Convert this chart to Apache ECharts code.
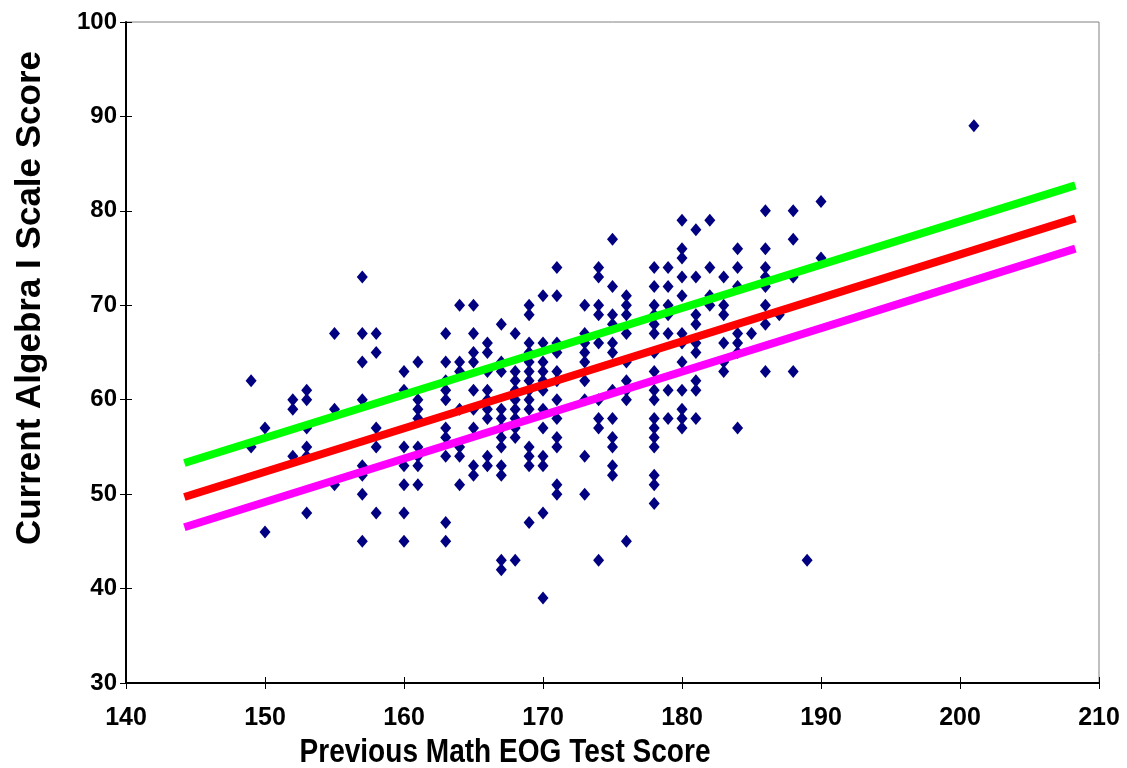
<!DOCTYPE html>
<html>
<head>
<meta charset="utf-8">
<script src="https://cdn.jsdelivr.net/npm/echarts@6/dist/echarts.min.js"></script>
<style>
  html, body { margin: 0; padding: 0; background: #fff; }
  #chart { width: 1127px; height: 768px; }
</style>
</head>
<body>
<div id="chart"></div>
<script>
// previous EOG score (x) and the algebra scores seen in that column
const eogScores = [149, 150, 152, 153, 155, 157, 158, 160, 161, 163, 164, 165, 166, 167, 168, 169, 170, 171, 173, 174, 175, 176, 178, 179, 180, 181, 182, 183, 184, 185, 186, 187, 188, 189, 190, 201];
const algebraByEog = [
  [62, 55],
  [57, 46],
  [60, 59, 54],
  [61, 60, 57, 55, 54, 48],
  [67, 59, 51],
  [73, 67, 64, 60, 53, 52, 50, 45],
  [67, 65, 57, 55, 48],
  [63, 61, 55, 53, 51, 48, 45],
  [64, 60, 59, 58, 55, 54, 53, 51],
  [67, 64, 62, 61, 60, 57, 56, 54, 47, 45],
  [70, 64, 63, 59, 55, 54, 51],
  [70, 67, 65, 64, 61, 59, 57, 53, 52],
  [66, 65, 63, 61, 60, 59, 58, 54, 53],
  [68, 64, 63, 59, 58, 57, 56, 55, 53, 52, 43, 42],
  [67, 63, 62, 61, 60, 59, 58, 57, 56, 43],
  [70, 69, 66, 65, 64, 63, 62, 61, 60, 59, 55, 54, 53, 47],
  [71, 66, 64, 63, 62, 61, 59, 57, 54, 53, 48, 39],
  [74, 71, 66, 65, 63, 62, 60, 58, 56, 55, 51, 50],
  [70, 67, 66, 65, 64, 62, 60, 54, 50],
  [74, 73, 70, 69, 66, 60, 58, 57, 43],
  [77, 72, 69, 68, 66, 65, 61, 58, 56, 55, 53, 52],
  [71, 70, 69, 67, 64, 62, 61, 60, 45],
  [74, 72, 70, 69, 68, 67, 65, 63, 61, 60, 58, 57, 56, 55, 52, 51, 49],
  [74, 72, 70, 69, 67, 61, 58],
  [79, 76, 75, 73, 71, 67, 66, 64, 61, 59, 58, 57],
  [78, 73, 69, 68, 66, 65, 62, 61, 58],
  [79, 74, 71, 70],
  [73, 70, 69, 66, 64, 63],
  [76, 74, 72, 67, 66, 65, 57],
  [67],
  [80, 76, 74, 73, 72, 70, 68, 63],
  [69],
  [80, 77, 73, 63],
  [43],
  [81, 75],
  [89]
];

// regression line and the two band lines
const lineX = [144.2, 208.3];
const upperY = [53.3, 82.7];
const fitY = [49.7, 79.2];
const lowerY = [46.5, 76.0];

const xTicks = { min: 140, max: 210, interval: 10 };
const yTicks = { min: 30, max: 100, interval: 10 };

const points = [];
eogScores.forEach((x, i) => {
  algebraByEog[i].forEach(y => points.push([x, y]));
});
const toLine = ys => lineX.map((x, i) => [x, ys[i]]);

const chart = echarts.init(document.getElementById("chart"));
const labelFont = '"Liberation Sans", Arial, sans-serif';

const baseX = {
  type: "value",
  ...xTicks,
  splitLine: { show: false },
};
const baseY = {
  type: "value",
  ...yTicks,
  splitLine: { show: false },
};

chart.setOption({
  backgroundColor: "#fff",
  animation: false,
  grid: {
    left: 126, right: 28, top: 22, bottom: 85,
    show: true,
    borderColor: "#808080",
    borderWidth: 1,
  },
  xAxis: [
    {
      ...baseX,
      axisLine: { lineStyle: { color: "#000", width: 2 } },
      axisTick: { length: 6, lineStyle: { color: "#000", width: 1 } },
      axisLabel: {
        color: "#000", fontWeight: "bold", fontSize: 25,
        fontFamily: labelFont, margin: 23,
      },
    },
    {
      // inner half of the crossing tick marks
      ...baseX,
      position: "bottom",
      axisLine: { show: false },
      axisTick: { inside: true, length: 6, lineStyle: { color: "#000", width: 1 } },
      axisLabel: { show: false },
    },
  ],
  yAxis: [
    {
      ...baseY,
      axisLine: { show: true, lineStyle: { color: "#000", width: 2 } },
      axisTick: { show: true, length: 6, lineStyle: { color: "#000", width: 1 } },
      axisLabel: {
        color: "#000", fontWeight: "bold", fontSize: 24,
        fontFamily: labelFont, margin: 9,
      },
    },
    {
      ...baseY,
      position: "left",
      axisLine: { show: false },
      axisTick: { show: true, inside: true, length: 6, lineStyle: { color: "#000", width: 1 } },
      axisLabel: { show: false },
    },
  ],
  graphic: [
    {
      type: "text",
      x: 30, y: 298,
      rotation: Math.PI / 2,
      style: {
        text: "Current Algebra I Scale Score",
        font: 'bold 35px "Liberation Sans", Arial, sans-serif',
        fill: "#000",
        align: "center",
        verticalAlign: "middle",
      },
    },
    {
      type: "text",
      x: 505, y: 753,
      scaleX: 0.85,
      style: {
        text: "Previous Math EOG Test Score",
        font: 'bold 33px "Liberation Sans", Arial, sans-serif',
        fill: "#000",
        align: "center",
        verticalAlign: "middle",
      },
    },
  ],
  series: [
    {
      type: "scatter",
      data: points,
      symbol: "diamond",
      symbolSize: [11, 13],
      itemStyle: { color: "#000080", opacity: 1 },
    },
    {
      type: "line",
      data: toLine(upperY),
      symbol: "none",
      lineStyle: { color: "#00ff00", width: 8 },
    },
    {
      type: "line",
      data: toLine(fitY),
      symbol: "none",
      lineStyle: { color: "#ff0000", width: 8 },
    },
    {
      type: "line",
      data: toLine(lowerY),
      symbol: "none",
      lineStyle: { color: "#ff00ff", width: 8 },
    },
  ],
});
</script>
</body>
</html>
